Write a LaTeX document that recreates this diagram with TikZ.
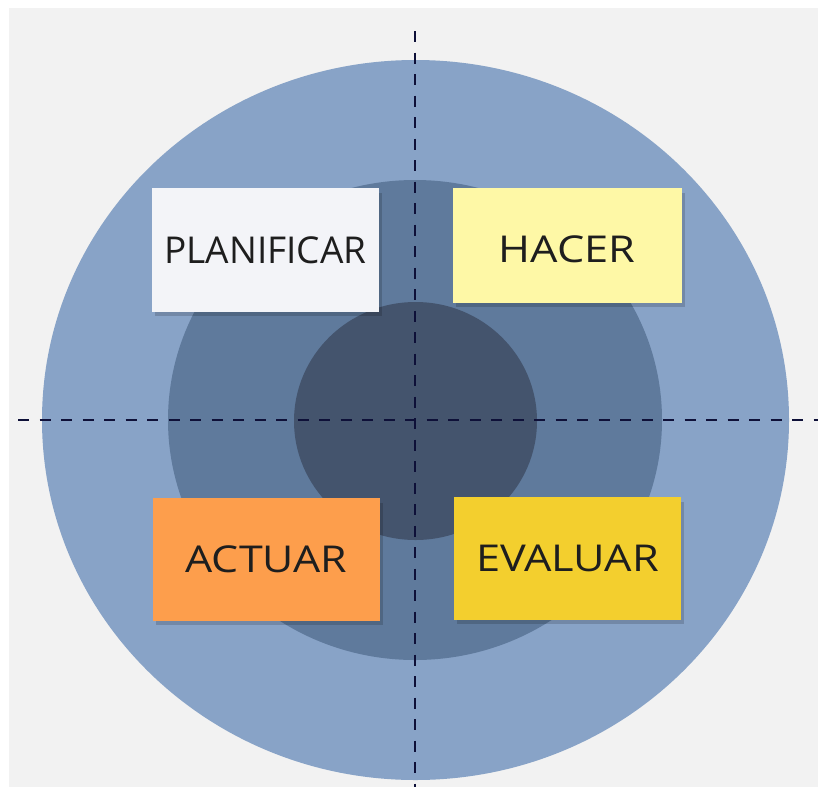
\documentclass[tikz,border=0pt]{standalone}
\usepackage{fontspec}
\usepackage{graphicx}
\setmainfont{Open Sans}
\definecolor{paper}{HTML}{F2F2F2}
\definecolor{ringOuter}{HTML}{88A3C7}
\definecolor{ringMid}{HTML}{5F7A9C}
\definecolor{ringCore}{HTML}{44546D}
\definecolor{axisInk}{HTML}{0E1038}
\definecolor{noteWhite}{HTML}{F3F4F8}
\definecolor{noteLemon}{HTML}{FEF8A6}
\definecolor{noteOrange}{HTML}{FD9E4C}
\definecolor{noteGold}{HTML}{F3CF2E}
\definecolor{noteText}{HTML}{1E1E1E}
\newcommand{\wide}[2]{\scalebox{#1}[1]{#2}}
\tikzset{
  note/.style={rectangle, inner sep=0pt, text=noteText,
    font=\fontsize{37}{40}\selectfont},
  noteshadow/.style={fill=black, fill opacity=0.16},
  axis/.style={draw=axisInk, line width=2.8pt, dash pattern=on 11pt off 10.5pt}
}
\begin{document}
\begin{tikzpicture}[x=1pt,y=-1pt]
  % canvas
  \fill[white] (0,0) rectangle (818,787);
  \useasboundingbox (0,0) rectangle (818,787);
  \fill[paper] (9,8) rectangle (818,787);

  % concentric rings
  \fill[ringOuter] (415.5,420) ellipse [x radius=373.5, y radius=360];
  \fill[ringMid]   (415,420) ellipse [x radius=247, y radius=240];
  \fill[ringCore]  (415.5,421) ellipse [x radius=121.5, y radius=119];

  % axes
  \coordinate (vtop) at (415,31);
  \coordinate (vbot) at (415,787);
  \coordinate (hleft) at (18,420);
  \coordinate (hright) at (818,420);
  \draw[axis] (vtop) -- (vbot);
  \draw[axis] (hleft) -- (hright);

  % shadows under the notes
  \fill[noteshadow] (155,193) rectangle (382,316);
  \fill[noteshadow] (456,193) rectangle (685,307);
  \fill[noteshadow] (156,503) rectangle (383,625);
  \fill[noteshadow] (457,502) rectangle (684,624);

  % sticky notes
  \node[note, fill=noteWhite, minimum width=227pt, minimum height=124pt]
    (plan) at (265.5,250) {PLANIFICAR};
  \node[note, fill=noteLemon, minimum width=229pt, minimum height=115pt]
    (hacer) at (567.5,245.5) {};
  \node[note] (hacerT) at (567,249) {\wide{1.17}{HACER}};
  \node[note, fill=noteOrange, minimum width=227pt, minimum height=123pt]
    (actuar) at (266.5,559.5) {\wide{1.16}{ACTUAR}};
  \node[note, fill=noteGold, minimum width=227pt, minimum height=123pt]
    (evaluar) at (567.5,558.5) {\wide{1.17}{EVALUAR}};
\end{tikzpicture}
\end{document}
